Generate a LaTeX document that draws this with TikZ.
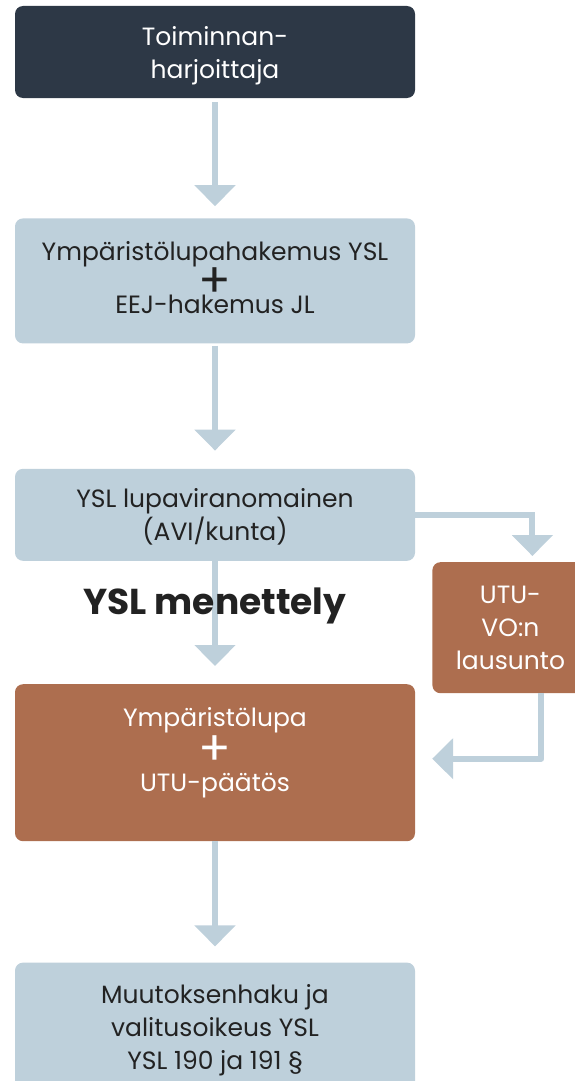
\documentclass[tikz,border=0pt]{standalone}
\usepackage{fontspec}
\setmainfont{Poppins}
\usetikzlibrary{positioning,arrows.meta}

\definecolor{darkbox}{HTML}{2D3846}
\definecolor{lightbox}{HTML}{BED0DB}
\definecolor{brownbox}{HTML}{AD6E4F}
\definecolor{inkdark}{HTML}{222222}
\newcommand{\bigplus}{{\fontsize{48}{48}\selectfont\smash{+}}}

\begin{document}
\begin{tikzpicture}[x=1pt,y=1pt]

	\tikzset{stepbox/.style={
			rectangle, rounded corners=8pt,
			minimum width=#1,
			inner sep=0pt, align=center,
			font=\fontsize{25}{33}\selectfont
		},
		stepbox/.default=400pt,
		darkstep/.style={stepbox, fill=darkbox, text=white},
		lightstep/.style={stepbox, fill=lightbox, text=inkdark},
		brownstep/.style={stepbox=#1, fill=brownbox, text=white},
		brownstep/.default=400pt,
		flow/.style={draw=lightbox, line width=6pt,
			-{Triangle[width=40pt,length=21pt]}},
		phase/.style={font=\fontsize{36}{36}\selectfont\bfseries, text=inkdark, inner sep=0pt}
	}

	\useasboundingbox (0,0) rectangle (574,-1081);

	\node[darkstep, minimum height=92pt, text depth=0pt] (toim) at (215,-52) {Toiminnan-\\harjoittaja};
	\node[lightstep, minimum height=125pt, text depth=6pt, below=120pt of toim] (hak)
		{Ympäristölupahakemus YSL\\[4pt]\bigplus\\[-17pt]EEJ-hakemus JL};
	\node[lightstep, minimum height=92pt, text depth=0pt, below=125pt of hak] (lupa)
		{YSL lupaviranomainen\\(AVI/kunta)};
	\node[brownstep=156pt, minimum height=131pt, below right=1pt and 17pt of lupa] (utu)
		{UTU-\\VO:n\\lausunto};
	\node[brownstep, minimum height=157pt, text depth=26pt, below=123pt of lupa] (upa)
		{Ympäristölupa\\[6pt]\bigplus\\[-7pt]UTU-päätös};
	\node[lightstep, minimum height=136pt, below=121pt of upa] (muutos)
		{Muutoksenhaku ja\\valitusoikeus YSL\\YSL 190 ja 191 §};

	% main flow
	\draw[flow, shorten <=4pt, shorten >=12pt] (toim) -- (hak);
	\draw[flow, shorten <=2pt, shorten >=18pt] (hak) -- (lupa);
	\draw[flow, shorten >=18pt] (lupa) -- (upa);
	\draw[flow, shorten >=16pt] (upa) -- (muutos);

	% side branch
	\draw[flow, shorten >=6pt] (lupa.east) -| ([xshift=22pt]utu.north);
	\draw[flow, line join=round, shorten >=17pt] ([xshift=31pt]utu.south) |- ([yshift=4pt]upa.east);

	\node[phase] (menet) at ([yshift=-45pt]lupa.south) {YSL menettely};

\end{tikzpicture}
\end{document}
